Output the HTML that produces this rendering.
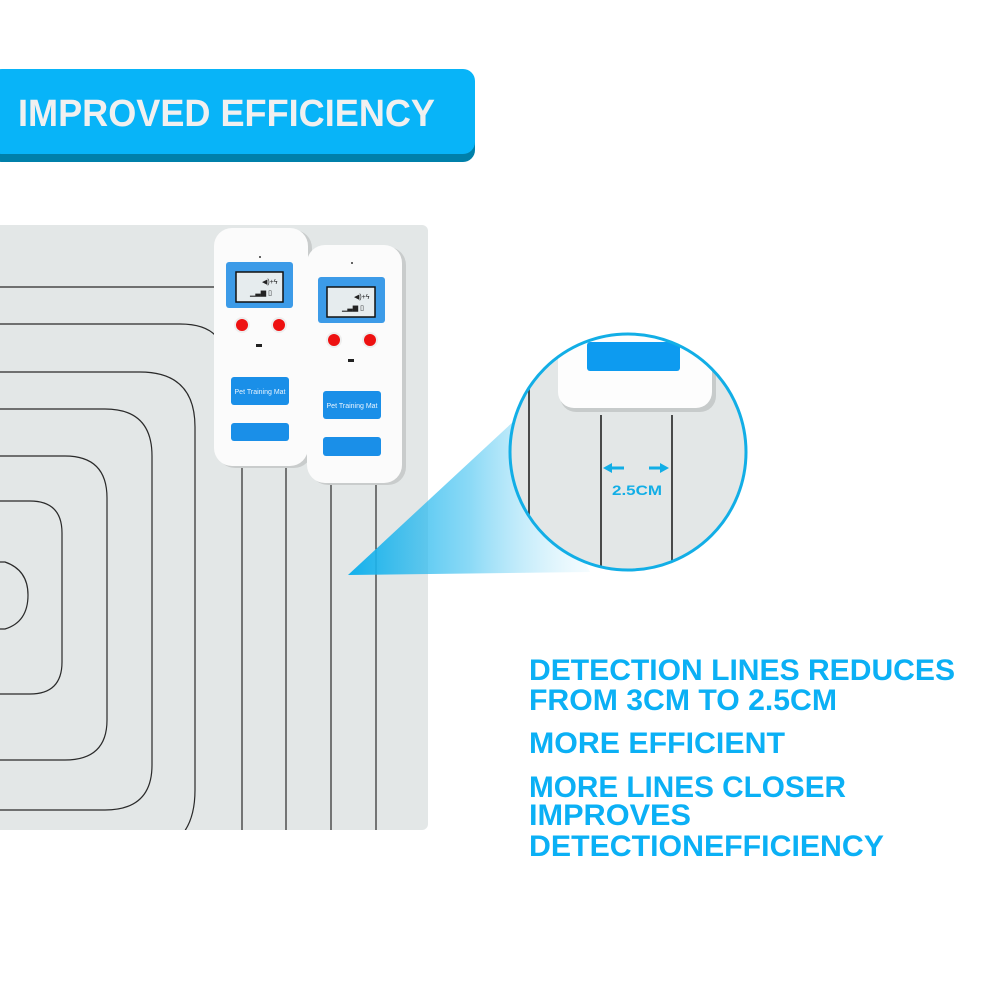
<!DOCTYPE html>
<html><head><meta charset="utf-8"><style>
html,body{margin:0;padding:0;background:#fff;}
svg{display:block;}
</style></head><body>
<svg width="1000" height="1000" viewBox="0 0 1000 1000" xmlns="http://www.w3.org/2000/svg">
<defs>
<clipPath id="mat"><rect x="-10" y="225" width="438" height="605" rx="6"/></clipPath>
<clipPath id="circ"><circle cx="628" cy="452" r="117"/></clipPath>
<linearGradient id="tri" x1="348" y1="0" x2="590" y2="0" gradientUnits="userSpaceOnUse">
<stop offset="0" stop-color="#12b0ec" stop-opacity="1"/>
<stop offset="0.5" stop-color="#3cc0f0" stop-opacity="0.6"/>
<stop offset="1" stop-color="#9fe0f8" stop-opacity="0.1"/>
</linearGradient>
</defs>

<!-- banner -->
<rect x="-10" y="77" width="485" height="85" rx="12" fill="#0080aa"/>
<rect x="-10" y="69" width="485" height="85" rx="12" fill="#08b4f8"/>
<text x="18" y="126" font-family="Liberation Sans, sans-serif" font-weight="bold" font-size="38" fill="#f0f0f0" textLength="417" lengthAdjust="spacingAndGlyphs">IMPROVED EFFICIENCY</text>

<!-- mat -->
<g clip-path="url(#mat)">
<rect x="-10" y="225" width="438" height="605" fill="#e3e7e7"/>
<g fill="none" stroke="#2a2a2a" stroke-width="1.2">
<path d="M0 287 H220"/>
<path d="M0 324 H180 Q205 324 216 336"/>
<path d="M0 372 H140 Q195 372 195 427 V790 Q195 830 170 845"/>
<path d="M0 409 H105 Q152 409 152 456 V765 Q152 810 105 810 H0"/>
<path d="M0 456 H65 Q107 456 107 498 V720 Q107 760 65 760 H0"/>
<path d="M0 501 H30 Q62 501 62 533 V662 Q62 694 30 694 H0"/>
<path d="M0 562 H5 Q28 570 28 595 Q28 622 5 629 H0"/>
<path d="M242 460 V830"/>
<path d="M286 460 V830"/>
<path d="M331 478 V830"/>
<path d="M376 478 V830"/>
</g>
</g>

<!-- remote 1 -->
<g>
<rect x="217" y="230" width="95" height="238" rx="18" fill="#c9cccc"/>
<rect x="214" y="228" width="94" height="238" rx="18" fill="#fbfbfb"/>
<circle cx="260" cy="257" r="1" fill="#333"/>
<rect x="226" y="262" width="67" height="46" rx="3" fill="#3c9be8"/>
<rect x="236" y="272" width="47" height="30" fill="#e6ecee" stroke="#111" stroke-width="1.5"/>
<text x="262" y="284" font-family="Liberation Sans,sans-serif" font-size="7" fill="#222">◀)+ϟ</text>
<text x="250" y="295" font-family="Liberation Sans,sans-serif" font-size="7" fill="#222">▁▃▆ ▯</text>
<circle cx="242" cy="325" r="8" fill="#eee"/><circle cx="242" cy="325" r="6" fill="#ee1111"/>
<circle cx="279" cy="325" r="8" fill="#eee"/><circle cx="279" cy="325" r="6" fill="#ee1111"/>
<rect x="256" y="344" width="6" height="3" fill="#222"/>
<rect x="231" y="377" width="58" height="28" rx="3" fill="#1a8fe8"/>
<text x="260" y="394" text-anchor="middle" font-family="Liberation Sans,sans-serif" font-size="7" fill="#e8f4ff">Pet Training Mat</text>
<rect x="231" y="423" width="58" height="18" rx="3" fill="#1a8fe8"/>
</g>
<!-- remote 2 -->
<g>
<rect x="310" y="247" width="96" height="238" rx="18" fill="#c9cccc"/>
<rect x="307" y="245" width="95" height="238" rx="18" fill="#fbfbfb"/>
<circle cx="352" cy="263" r="1" fill="#333"/>
<rect x="318" y="277" width="67" height="46" rx="3" fill="#3c9be8"/>
<rect x="327" y="287" width="48" height="30" fill="#e6ecee" stroke="#111" stroke-width="1.5"/>
<text x="354" y="299" font-family="Liberation Sans,sans-serif" font-size="7" fill="#222">◀)+ϟ</text>
<text x="342" y="310" font-family="Liberation Sans,sans-serif" font-size="7" fill="#222">▁▃▆ ▯</text>
<circle cx="334" cy="340" r="8" fill="#eee"/><circle cx="334" cy="340" r="6" fill="#ee1111"/>
<circle cx="370" cy="340" r="8" fill="#eee"/><circle cx="370" cy="340" r="6" fill="#ee1111"/>
<rect x="348" y="359" width="6" height="3" fill="#222"/>
<rect x="323" y="391" width="58" height="28" rx="3" fill="#1a8fe8"/>
<text x="352" y="408" text-anchor="middle" font-family="Liberation Sans,sans-serif" font-size="7" fill="#e8f4ff">Pet Training Mat</text>
<rect x="323" y="437" width="58" height="19" rx="3" fill="#1a8fe8"/>
</g>

<!-- beam -->
<polygon points="348,575 515,420 590,572" fill="url(#tri)"/>

<!-- magnifier circle -->
<g clip-path="url(#circ)">
<rect x="505" y="330" width="250" height="250" fill="#e3e7e7"/>
<rect x="560" y="300" width="156" height="112" rx="16" fill="#c7cbcb"/>
<rect x="558" y="298" width="154" height="110" rx="16" fill="#fdfdfd"/>
<rect x="587" y="342" width="93" height="29" rx="3" fill="#0d9bf0"/>
<g fill="none" stroke="#222" stroke-width="1.6">
<path d="M529 380 V520"/>
<path d="M601 415 V580"/>
<path d="M672 415 V580"/>
</g>
</g>
<circle cx="628" cy="452" r="118" fill="none" stroke="#12aee6" stroke-width="3"/>
<g fill="#12aee6" stroke="#12aee6">
<line x1="610" y1="468" x2="624" y2="468" stroke-width="3"/>
<polygon points="603,468 612,463 612,473" stroke="none"/>
<line x1="649" y1="468" x2="662" y2="468" stroke-width="3"/>
<polygon points="669,468 660,463 660,473" stroke="none"/>
</g>
<text x="612" y="495" font-family="Liberation Sans,sans-serif" font-weight="bold" font-size="14" fill="#12aee6" textLength="50" lengthAdjust="spacingAndGlyphs">2.5CM</text>

<!-- text block -->
<g font-family="Liberation Sans,sans-serif" font-weight="bold" font-size="30" fill="#0bb0f5">
<text x="529" y="680" textLength="426" lengthAdjust="spacingAndGlyphs">DETECTION LINES REDUCES</text>
<text x="529" y="710" textLength="308" lengthAdjust="spacingAndGlyphs">FROM 3CM TO 2.5CM</text>
<text x="529" y="753" textLength="256" lengthAdjust="spacingAndGlyphs">MORE EFFICIENT</text>
<text x="529" y="797" textLength="317" lengthAdjust="spacingAndGlyphs">MORE LINES CLOSER</text>
<text x="529" y="825" textLength="162" lengthAdjust="spacingAndGlyphs">IMPROVES</text>
<text x="529" y="856" textLength="355" lengthAdjust="spacingAndGlyphs">DETECTIONEFFICIENCY</text>
</g>
</svg>
</body></html>
